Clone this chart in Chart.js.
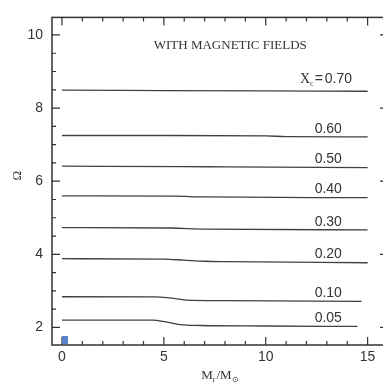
<!DOCTYPE html>
<html>
<head>
<meta charset="utf-8">
<script src="https://cdn.jsdelivr.net/npm/chart.js@4.4.0/dist/chart.umd.min.js"></script>
<style>
  html, body { margin: 0; padding: 0; background: #fff; overflow: hidden; }
  #wrap { width: 383px; height: 387px; overflow: hidden; position: relative; }
  #omega { position: absolute; left: 0; top: 0; width: 400px; height: 387px; }
</style>
</head>
<body>
<div id="wrap"><canvas id="omega" width="400" height="387"></canvas></div>
<script>
// central hydrogen abundance labelling each profile
var Xc = ["0.70", "0.60", "0.50", "0.40", "0.30", "0.20", "0.10", "0.05"];

// M_r/M_sun and Omega along each profile
var m70 = [0, 5, 10, 15];
var w70 = [8.49, 8.48, 8.47, 8.46];
var m60 = [0, 5, 10, 11, 15];
var w60 = [7.25, 7.25, 7.24, 7.22, 7.21];
var m50 = [0, 6, 8, 15];
var w50 = [6.41, 6.40, 6.39, 6.37];
var m40 = [0, 5.5, 7, 15];
var w40 = [5.60, 5.59, 5.57, 5.55];
var m30 = [0, 5.3, 7, 15];
var w30 = [4.73, 4.72, 4.69, 4.67];
var m20 = [0, 5, 6, 7, 8, 15];
var w20 = [3.88, 3.87, 3.84, 3.81, 3.80, 3.77];
var m10 = [0, 4.6, 5.35, 6.1, 8, 14.7];
var w10 = [2.84, 2.838, 2.80, 2.75, 2.735, 2.715];
var m05 = [0, 4.45, 5.1, 5.8, 6.8, 10, 14.5];
var w05 = [2.20, 2.20, 2.15, 2.075, 2.053, 2.04, 2.027];

var xTicks = [0, 5, 10, 15];
var yTicks = [2, 4, 6, 8, 10];

var masses = [m70, m60, m50, m40, m30, m20, m10, m05];
var omegas = [w70, w60, w50, w40, w30, w20, w10, w05];

var INK = "#333";
var SANS = "'Liberation Sans', Arial, sans-serif";
var SERIF = "'Liberation Serif', 'Times New Roman', serif";

function pts(m, w) {
  return m.map(function(x, i) { return { x: x, y: w[i] }; });
}

// linear interpolation along a profile, used to seat its label
function omegaAt(m, w, x) {
  for (var i = 1; i < m.length; i++) {
    if (x <= m[i]) {
      var t = (x - m[i - 1]) / (m[i] - m[i - 1]);
      return w[i - 1] + t * (w[i] - w[i - 1]);
    }
  }
  return w[w.length - 1];
}

var datasets = masses.map(function(m, i) {
  return {
    label: Xc[i],
    data: pts(m, omegas[i]),
    borderColor: "#404040",
    borderWidth: 1.3,
    pointRadius: 0,
    fill: false,
    cubicInterpolationMode: "monotone"
  };
});

// frame with inward ticks on all four sides, plus the annotations
var framePlugin = {
  id: "frame",
  afterDraw: function(chart) {
    var ctx = chart.ctx;
    var a = chart.chartArea;
    var xs = chart.scales.x;
    var ys = chart.scales.y;

    ctx.save();
    ctx.strokeStyle = INK;
    ctx.lineWidth = 1.5;
    ctx.strokeRect(a.left, a.top, a.right - a.left, a.bottom - a.top);

    ctx.lineWidth = 1.2;
    ctx.beginPath();
    for (var v = 0; v <= 16; v++) {
      var px = xs.getPixelForValue(v);
      var len = v % 5 === 0 ? 8 : 4;
      ctx.moveTo(px, a.bottom); ctx.lineTo(px, a.bottom - len);
      ctx.moveTo(px, a.top); ctx.lineTo(px, a.top + len);
    }
    for (var u = 2; u <= 10; u += 0.5) {
      var py = ys.getPixelForValue(u);
      var l2 = u % 2 === 0 ? 8 : 4;
      ctx.moveTo(a.left, py); ctx.lineTo(a.left + l2, py);
      ctx.moveTo(a.right, py); ctx.lineTo(a.right - l2, py);
    }
    ctx.stroke();

    ctx.fillStyle = INK;

    // heading
    ctx.font = "13px " + SERIF;
    ctx.textAlign = "center";
    ctx.textBaseline = "middle";
    ctx.fillText("WITH MAGNETIC FIELDS", xs.getPixelForValue(8.26), ys.getPixelForValue(9.71));

    // profile labels
    ctx.textBaseline = "alphabetic";
    ctx.textAlign = "left";
    for (var i = 0; i < Xc.length; i++) {
      var lx = i === 0 ? 12.9 : 12.4;
      var base = ys.getPixelForValue(omegaAt(masses[i], omegas[i], lx + 0.6)) - (i === 0 ? 8 : 4);
      var x0 = xs.getPixelForValue(lx);
      ctx.font = "14px " + SANS;
      ctx.fillText(Xc[i], x0, base);
      if (i === 0) {
        var eqW = ctx.measureText("=").width;
        ctx.fillText("=", x0 - eqW - 2, base);
        ctx.font = "8px " + SERIF;
        var cW = ctx.measureText("c").width;
        ctx.fillText("c", x0 - eqW - 3 - cW, base + 3);
        ctx.font = "14px " + SERIF;
        var XW = ctx.measureText("X").width;
        ctx.fillText("X", x0 - eqW - 3 - cW - XW, base);
      }
    }

    // x axis title  M_r / M_sun
    var tx = xs.getPixelForValue(7.75);
    var ty = 379;
    ctx.font = "13px " + SERIF;
    var wM = ctx.measureText("M").width;
    var wS = ctx.measureText("/").width;
    ctx.font = "8px " + SERIF;
    var wr = ctx.measureText("r").width;
    var wsun = ctx.measureText("\u2299").width;
    var total = wM * 2 + wS + wr + wsun + 1;
    var cx = tx - total / 2;
    ctx.textAlign = "left";
    ctx.font = "13px " + SERIF;
    ctx.fillText("M", cx, ty); cx += wM;
    ctx.font = "8px " + SERIF;
    ctx.fillText("r", cx, ty + 3); cx += wr + 1;
    ctx.font = "13px " + SERIF;
    ctx.fillText("/", cx, ty); cx += wS;
    ctx.fillText("M", cx, ty); cx += wM;
    ctx.font = "8px " + SERIF;
    ctx.fillText("\u2299", cx, ty + 3);

    // y axis title
    ctx.save();
    ctx.translate(a.left - 34, ys.getPixelForValue(6.15));
    ctx.rotate(-Math.PI / 2);
    ctx.font = "13px " + SERIF;
    ctx.textAlign = "center";
    ctx.textBaseline = "middle";
    ctx.fillText("\u03A9", 0, 0);
    ctx.restore();

    // small marker in the lower-left corner
    ctx.fillStyle = "#5b82c9";
    ctx.fillRect(a.left + 10, a.bottom - 9, 6, 8);
    ctx.restore();
  }
};

new Chart(document.getElementById("omega").getContext("2d"), {
  type: "line",
  data: { datasets: datasets },
  options: {
    responsive: false,
    animation: false,
    devicePixelRatio: 1,
    layout: { padding: { top: 10, right: 12, left: 0, bottom: 0 } },
    plugins: { legend: { display: false }, tooltip: { enabled: false } },
    scales: {
      x: {
        type: "linear",
        min: -0.49,
        max: 16,
        grid: { display: false, drawTicks: false },
        border: { display: false },
        afterBuildTicks: function(s) { s.ticks = xTicks.map(function(v) { return { value: v }; }); },
        afterFit: function(s) { s.height = 42; },
        ticks: { color: INK, font: { family: SANS, size: 14 }, padding: 4, maxRotation: 0 }
      },
      y: {
        type: "linear",
        min: 1.52,
        max: 10.48,
        grid: { display: false, drawTicks: false },
        border: { display: false },
        afterBuildTicks: function(s) { s.ticks = yTicks.map(function(v) { return { value: v }; }); },
        afterFit: function(s) { s.width = 52; },
        ticks: { color: INK, font: { family: SANS, size: 14 }, padding: 9 }
      }
    }
  },
  plugins: [framePlugin]
});
</script>
</body>
</html>
